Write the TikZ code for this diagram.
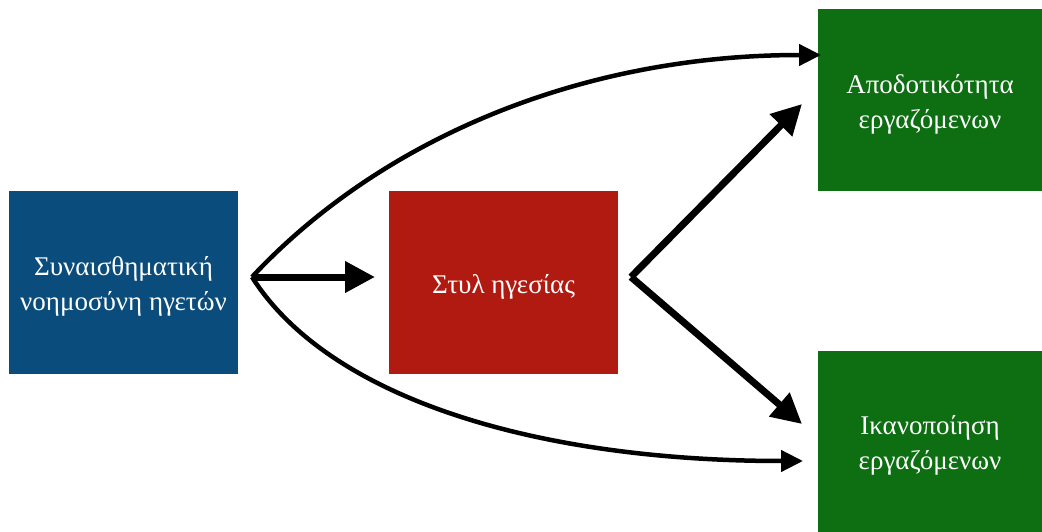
\documentclass[tikz,border=0pt]{standalone}
\usepackage{fontspec}
\setmainfont{Liberation Serif}
\usetikzlibrary{arrows.meta,calc}
\definecolor{cblue}{HTML}{0A4C7C}
\definecolor{cred}{HTML}{B11A10}
\definecolor{cgreen}{HTML}{0D6F12}
\tikzset{
  box/.style={inner sep=0pt, outer sep=0pt},
  boxtext/.style={text=white, align=center, yshift=-4pt,
    font=\fontsize{27}{35}\selectfont},
  thinarrow/.style={line width=4.5pt, -{Triangle[length=22pt,width=21pt]}},
  thickarrow/.style={line width=7pt, -{Triangle[length=30pt,width=30pt]}},
}
\begin{document}
\begin{tikzpicture}[x=1pt,y=-1pt]
\useasboundingbox (0,0) rectangle (1042,532);
\node[box, fill=cblue, minimum width=229pt, minimum height=183pt,
  label={[boxtext]center:Συναισθηματική\\νοημοσύνη ηγετών}] (blue) at (123.5,282.5) {};
\node[box, fill=cred, minimum width=229pt, minimum height=183pt,
  label={[boxtext]center:Στυλ ηγεσίας}] (red) at (503.5,282.5) {};
\node[box, fill=cgreen, minimum width=224pt, minimum height=182pt,
  label={[boxtext]center:Αποδοτικότητα\\εργαζόμενων}] (g1) at (930,100) {};
\node[box, fill=cgreen, minimum width=224pt, minimum height=181pt,
  label={[boxtext]center:Ικανοποίηση\\εργαζόμενων}] (g2) at (930,441.5) {};
\coordinate (bs) at ($(blue.east)+(14,-5.5)$);
\coordinate (rs) at ($(red.east)+(13,-5.5)$);
\draw[thickarrow] (bs) -- ($(red.west)+(-14,-5.5)$);
\draw[thickarrow] (rs) -- ($(g1.south west)+(-16,-87)$);
\draw[thickarrow] (rs) -- ($(g2.west)+(-16,-17.5)$);
\draw[thinarrow] (bs) .. controls +(128,-137) and +(-242,0) .. ($(g1.west)+(3,-45)$);
\draw[thinarrow] (bs) .. controls +(78,123) and +(-263,0) .. ($(g2.west)+(-15,19.5)$);
\end{tikzpicture}
\end{document}
